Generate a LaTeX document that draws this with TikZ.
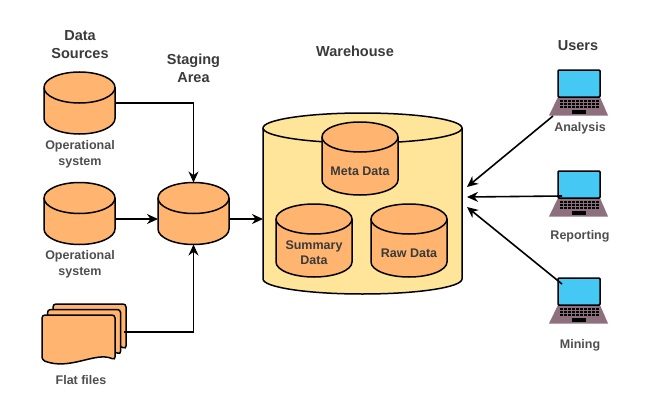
\documentclass[tikz,border=0pt]{standalone}
\usepackage{fontspec}
\setmainfont{Liberation Sans}
\usetikzlibrary{arrows.meta}
\definecolor{cylorange}{HTML}{FFB570}
\definecolor{whyellow}{HTML}{FFE599}
\definecolor{screenblue}{HTML}{46C8F5}
\definecolor{basemauve}{HTML}{8E6F7E}
\definecolor{labelgray}{HTML}{3A3A3A}
\tikzset{
  cylline/.style={draw=black,line width=1.5pt},
  cylbox/.style={inner sep=0pt,outer sep=0pt},
  cyltext/.style={align=center,font=\fontsize{12.5}{15}\selectfont\bfseries,text=labelgray},
  heading/.style={align=center,font=\fontsize{14.5}{18}\selectfont\bfseries,text=labelgray},
  caption/.style={align=center,font=\fontsize{12.5}{16}\selectfont\bfseries,text=labelgray!90},
  conn/.style={-{Stealth[length=11pt,width=10pt]},line width=1.6pt},
}
% name, centre, half width, half height, cap radius, fill, text
\newcommand{\dbcyl}[7]{%
  \begin{scope}[shift={(#2)}]
    \draw[cylline,fill=#6] (-#3,-#4+#5) arc[start angle=180,end angle=360,x radius=#3,y radius=#5]
      -- (#3,#4-#5) arc[start angle=0,end angle=180,x radius=#3,y radius=#5] -- cycle;
    \draw[cylline] (-#3,-#4+#5) arc[start angle=180,end angle=0,x radius=#3,y radius=#5];
    \node[cylbox,minimum width=#3*2pt,minimum height=#4*2pt] (#1) at (0,0) {};
    \node[cyltext] (#1text) at (0,12.5) {#7};
  \end{scope}}
\newcommand{\laptop}[2]{%
  \begin{scope}[shift={(#1,#2)}]
    \fill[basemauve] (-9,45.5) -- (0,27) -- (42,27) -- (50,45.5) -- cycle;
    \draw[line width=1.5pt,fill=screenblue,rounded corners=1pt] (0,0) rectangle (42,27);
    \foreach \kx in {2,6,...,38} \foreach \ky in {30,33,36} \fill (\kx,\ky) rectangle +(2.6,1.7);
    \fill (14,39.5) rectangle (28,44);
  \end{scope}}
\begin{document}
\begin{tikzpicture}[x=1pt,y=-1pt]
\useasboundingbox (0,0) rectangle (650,404);
% warehouse
\dbcyl{wh}{362.5,203.5}{99.5}{90.5}{15}{whyellow}{}
\dbcyl{meta}{360,158.5}{38}{36.5}{15}{cylorange}{Meta Data}
\dbcyl{summary}{314,240.5}{38}{36.5}{15}{cylorange}{Summary\\Data}
\dbcyl{raw}{409,240.5}{38}{36.5}{15}{cylorange}{Raw Data}
% sources
\dbcyl{op1}{79.5,103}{35.5}{31}{15.5}{cylorange}{}
\dbcyl{op2}{79.5,213.5}{35.5}{31}{15.5}{cylorange}{}
\dbcyl{stage}{193.5,213.5}{35.5}{31}{15.5}{cylorange}{}
% flat files
\foreach \fo in {11,5.5,0}{
  \draw[line width=1.5pt,fill=cylorange,rounded corners=3pt] (42+\fo,360-\fo) -- (42+\fo,315-\fo) -- (115+\fo,315-\fo) -- (115+\fo,360-\fo)
    .. controls (96+\fo,351-\fo) and (70+\fo,371-\fo) .. cycle;
}
\coordinate (files) at (124,332);
% users
\laptop{558}{70}
\laptop{558}{171}
\laptop{558}{278}
\coordinate (an) at (553,116);
\coordinate (re) at (562,196);
\coordinate (mi) at (562,284);
\coordinate (tipan) at (467,187);
\coordinate (tipre) at (467,197);
\coordinate (tipmi) at (467,207);
% labels
\node[heading] (lsrc) at (80,45) {Data\\Sources};
\node[heading] (lstage) at (193.5,68) {Staging\\Area};
\node[heading] (lwh) at (355,51) {Warehouse};
\node[heading] (lusers) at (578,46) {Users};
\node[caption] (lop1) at (80,154) {Operational\\system};
\node[caption] (lop2) at (80,264) {Operational\\system};
\node[caption] (lfiles) at (81,380) {Flat files};
\node[caption] (lan) at (580,128) {Analysis};
\node[caption] (lre) at (580,236) {Reporting};
\node[caption] (lmi) at (580,345) {Mining};
% connectors
\draw[conn] (op1.east) -| (stage.north);
\draw[conn] ([yshift=-5.5pt]op2.east) -- ([yshift=-5.5pt]stage.west);
\draw[conn] (files) -| (stage.south);
\draw[conn] ([yshift=-5.5pt]stage.east) -- ([yshift=-5.5pt]stage.east -| wh.west);
\draw[conn] (an) -- (tipan);
\draw[conn] (re) -- (tipre);
\draw[conn] (mi) -- (tipmi);
\end{tikzpicture}
\end{document}
